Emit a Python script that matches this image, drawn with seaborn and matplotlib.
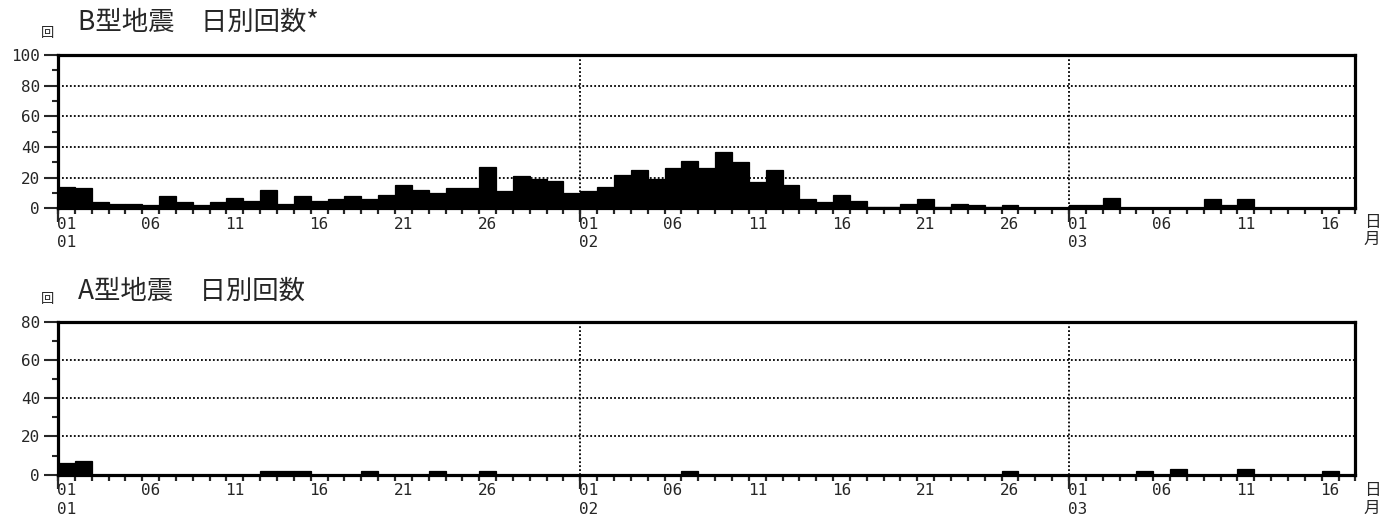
import numpy as np
import pandas as pd
import matplotlib
matplotlib.use("Agg")
import matplotlib.pyplot as plt
from matplotlib.ticker import FixedLocator
import seaborn as sns

# ---------------- data (daily counts) ----------------
b_jan = [14, 13, 4, 3, 3, 2, 8, 4, 2, 4, 7, 5, 12, 3, 8, 5, 6, 8, 6, 9, 15, 12, 10, 13, 13, 27, 11, 21, 19, 18, 10]
b_feb = [11, 14, 22, 25, 19, 26, 31, 26, 37, 30, 17, 25, 15, 6, 4, 9, 5, 1, 1, 3, 6, 1, 3, 2, 1, 2, 0, 0, 0]
b_mar = [2, 2, 7, 0, 0, 0, 0, 0, 6, 2, 6, 0, 0, 0, 0, 0, 0]

a_jan = [6, 7, 0, 0, 0, 0, 0, 0, 0, 0, 0, 0, 2, 2, 2, 0, 0, 0, 2, 0, 0, 0, 2, 0, 0, 2, 0, 0, 0, 0, 0]
a_feb = [0, 0, 0, 0, 0, 0, 2, 0, 0, 0, 0, 0, 0, 0, 0, 0, 0, 0, 0, 0, 0, 0, 0, 0, 0, 2, 0, 0, 0]
a_mar = [0, 0, 0, 0, 2, 0, 3, 0, 0, 0, 3, 0, 0, 0, 0, 2, 0]

dates = pd.date_range("2024-01-01", "2024-03-17", freq="D")
label_days = [1, 6, 11, 16, 21, 26]

title_b = "B型地震\u3000日別回数*"
title_a = "A型地震\u3000日別回数"
unit_label = "回"
xunit_day, xunit_month = "日", "月"

# ---------------- style ----------------
sns.set_style("white")
plt.rcParams["font.family"] = ["Noto Sans CJK JP", "DejaVu Sans"]

W, H = 1383, 522
fig = plt.figure(figsize=(W / 100, H / 100), dpi=100)

day_keys = [d.strftime("%m-%d") for d in dates]
n = len(dates)
bounds = np.arange(-0.5, n, 1.0)
month_bounds = [i - 0.5 for i, d in enumerate(dates) if d.day == 1]
lab_pos = [i for i, d in enumerate(dates) if d.day in label_days]
lab_txt = [f"{d.day:02d}" + (f"\n{d.month:02d}" if d.day == 1 else "")
           for d in dates if d.day in label_days]


def panel(rect, values, ymax, title, title_y, unit_y, xl_y):
    ax = fig.add_axes(rect)
    df = pd.DataFrame({"day": day_keys, "count": values})
    sns.barplot(data=df, x="day", y="count", order=day_keys, color="black",
                saturation=1, width=1.0, errorbar=None, linewidth=0.9,
                edgecolor="black", ax=ax, zorder=3)
    ax.set_xlim(-0.5, n - 0.5)
    ax.set_ylim(0, ymax)
    ax.set_xlabel("")
    ax.set_ylabel("")
    # y axis
    ax.yaxis.set_major_locator(FixedLocator(np.arange(0, ymax + 1, 20)))
    ax.yaxis.set_minor_locator(FixedLocator(np.arange(10, ymax, 20)))
    ax.tick_params(axis="y", which="major", left=True, length=10, width=1.5,
                   direction="out", pad=3, labelsize=11.5,
                   labelfontfamily="DejaVu Sans Mono")
    ax.tick_params(axis="y", which="minor", left=True, length=4, width=1.5,
                   direction="out")
    # x axis: labels at day centres, short ticks at day boundaries
    ax.xaxis.set_major_locator(FixedLocator(lab_pos))
    ax.set_xticklabels(lab_txt)
    ax.xaxis.set_minor_locator(FixedLocator(bounds))
    ax.tick_params(axis="x", which="major", bottom=True, length=0, pad=6.0,
                   labelsize=11.5, labelfontfamily="DejaVu Sans Mono")
    ax.tick_params(axis="x", which="minor", bottom=True, length=4, width=1.6,
                   direction="out")
    for lbl in ax.get_xticklabels():
        lbl.set_linespacing(1.3)
    # long month ticks
    sec = ax.secondary_xaxis("bottom")
    sec.set_xticks(month_bounds)
    sec.tick_params(axis="x", length=10, width=1.6, direction="out",
                    labelbottom=False)
    sec.spines["bottom"].set_visible(False)
    # grid
    for yv in np.arange(20, ymax, 20):
        ax.axhline(yv, color="black", lw=1.3, ls=(0, (1, 1.2)), zorder=1)
    for xv in month_bounds[1:]:
        ax.axvline(xv, color="black", lw=1.3, ls=(0, (1, 1.2)), zorder=1)
    for s in ax.spines.values():
        s.set_visible(True)
        s.set_color("black")
        s.set_linewidth(2.3)
        s.set_zorder(5)
    fig.text(78 / W, 1 - title_y / H, title, fontsize=19, ha="left",
             va="center")
    fig.text(47.5 / W, 1 - unit_y / H, unit_label, fontsize=9.5, ha="center",
             va="center")
    fig.text(1372 / W, 1 - xl_y / H, xunit_day, fontsize=12, ha="center",
             va="center")
    fig.text(1372 / W, 1 - (xl_y + 17) / H, xunit_month, fontsize=12,
             ha="center", va="center")
    return ax


left = 58 / W
width = (1355.4 - 58) / W
panel([left, (H - 208.3) / H, width, 153.3 / H], b_jan + b_feb + b_mar, 100,
      title_b, 22, 34, 222.5)
panel([left, (H - 474.7) / H, width, 153.0 / H], a_jan + a_feb + a_mar, 80,
      title_a, 291, 300, 491)

fig.savefig("out.png", dpi=100, facecolor="white")
